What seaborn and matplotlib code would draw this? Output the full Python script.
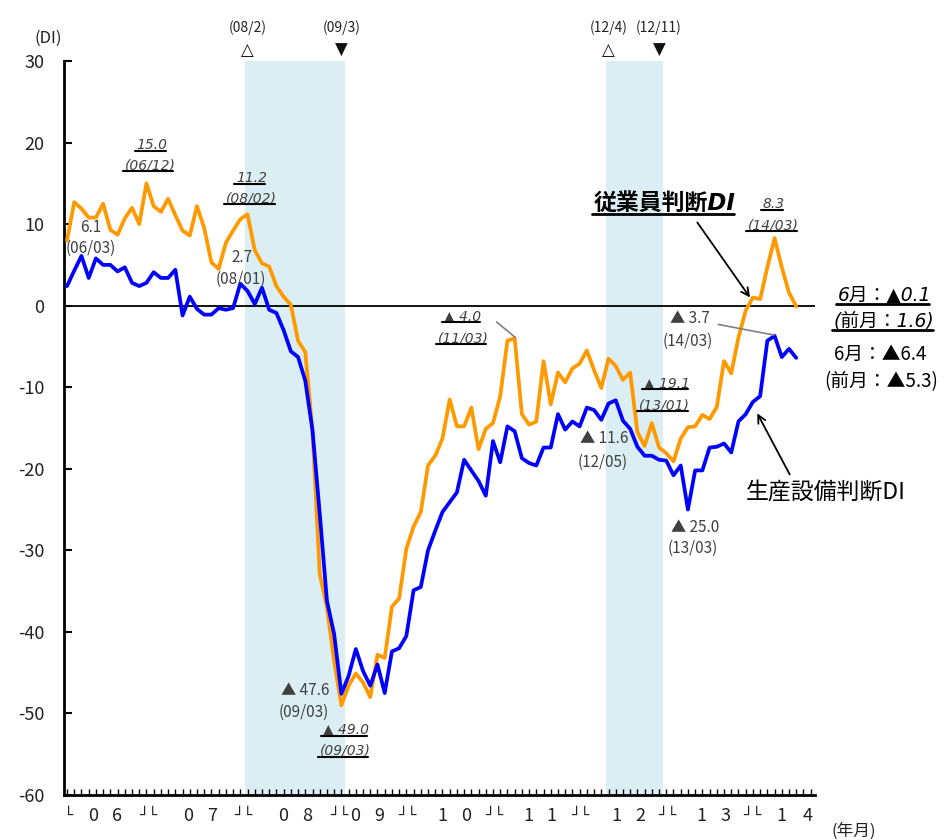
import numpy as np
import pandas as pd
import matplotlib
matplotlib.use("Agg")
import matplotlib.pyplot as plt
import seaborn as sns
from matplotlib.lines import Line2D

# ---------------- data ----------------
months = pd.period_range("2006-01", "2014-06", freq="M")

employee_di = [  # 従業員判断DI (orange)
    8.0, 12.7, 11.9, 10.8, 10.8, 12.5, 9.3, 8.7, 10.7, 12.0, 10.0, 15.0,
    12.2, 11.5, 13.1, 11.1, 9.2, 8.6, 12.2, 9.5, 5.3, 4.5, 7.7, 9.2,
    10.6, 11.2, 6.8, 5.2, 4.8, 2.4, 1.1, 0.1, -4.3, -5.7, -15.3, -32.9,
    -37.0, -43.6, -49.0, -46.6, -45.1, -46.2, -48.0, -42.8, -43.2, -36.9, -35.9, -29.8,
    -27.1, -25.3, -19.6, -18.4, -16.3, -11.5, -14.8, -14.8, -12.5, -17.6, -15.1, -14.4,
    -11.1, -4.3, -4.0, -13.3, -14.6, -14.2, -6.8, -12.1, -8.2, -9.4, -7.7, -7.1,
    -5.5, -7.9, -10.1, -6.5, -7.4, -9.1, -8.2, -15.5, -17.2, -14.4, -17.4, -18.1,
    -19.1, -16.3, -14.9, -14.8, -13.4, -13.9, -12.4, -6.8, -8.3, -3.9, -0.6, 1.0,
    0.8, 4.7, 8.3, 4.7, 1.6, -0.1,
]
equipment_di = [  # 生産設備判断DI (blue)
    2.4, 4.3, 6.1, 3.4, 5.8, 5.0, 5.0, 4.2, 4.7, 2.8, 2.4, 2.8,
    4.1, 3.4, 3.4, 4.4, -1.2, 1.1, -0.4, -1.1, -1.1, -0.3, -0.5, -0.3,
    2.7, 1.8, 0.2, 2.2, -0.5, -0.9, -3.0, -5.6, -6.3, -9.2, -15.3, -25.5,
    -36.2, -40.3, -47.6, -45.4, -42.1, -44.8, -46.6, -44.0, -47.5, -42.4, -42.0, -40.5,
    -34.9, -34.5, -30.0, -27.6, -25.3, -24.1, -22.9, -18.9, -20.2, -21.5, -23.3, -16.6,
    -19.2, -14.8, -15.4, -18.7, -19.3, -19.6, -17.4, -17.4, -13.3, -15.2, -14.2, -14.8,
    -12.5, -12.8, -14.0, -12.0, -11.6, -14.1, -15.1, -17.3, -18.4, -18.4, -18.9, -19.0,
    -20.8, -19.6, -25.0, -20.2, -20.2, -17.4, -17.3, -16.9, -18.0, -14.2, -13.3, -11.8,
    -11.1, -4.3, -3.7, -6.3, -5.3, -6.4,
]
series_names = ["従業員判断DI", "生産設備判断DI"]
recessions = [("2008-02", "2009-03"), ("2012-04", "2012-11")]
recession_labels = [("(08/2)", "(09/3)"), ("(12/4)", "(12/11)")]
year_labels = ["06", "07", "08", "09", "10", "11", "12", "13", "14"]
yticks = list(range(-60, 31, 10))

# ---------------- layout constants ----------------
year_label_pos = [5.26, 18.42, 31.58, 41.55, 53.6, 65.5, 77.7, 89.5, 100.8]
bracket_pos = [11.29, 24.45, 37.67, 47.16, 59.2, 71.1, 83.2, 94.9]

ORANGE = "#FF9900"
BLUE = "#0000FF"
SHADE = "#DAEEF3"
TXT = "#404040"

n = len(months)
idx = np.arange(n)
df = pd.DataFrame({
    "t": np.concatenate([idx, idx]),
    "DI": np.concatenate([employee_di, equipment_di]),
    "series": [series_names[0]] * n + [series_names[1]] * n,
})

def midx(s):
    p = pd.Period(s, freq="M")
    return (p - months[0]).n

sns.set_theme(style="white")
plt.rcParams["font.family"] = ["Noto Sans CJK JP", "DejaVu Sans"]
plt.rcParams["axes.unicode_minus"] = True

fig = plt.figure(figsize=(9.46, 8.4), dpi=100)
ax = fig.add_axes([64 / 946, 1 - 795 / 840, 751 / 946, 734 / 840])

# recession shading
for (a, b), (la, lb) in zip(recessions, recession_labels):
    ia, ib = midx(a), midx(b)
    ax.axvspan(ia - 0.35, ib + 0.55, color=SHADE, lw=0, zorder=0)
    ax.text(ia, 34.05, la, ha="center", va="center", fontsize=10, color="#222")
    ax.text(ib, 34.05, lb, ha="center", va="center", fontsize=10, color="#222")
    ax.text(ia, 31.4, "△", ha="center", va="center", fontsize=12, color="#111",
            family=["DejaVu Sans"])
    ax.text(ib, 31.4, "▼", ha="center", va="center", fontsize=12, color="#111",
            family=["DejaVu Sans"])

ax.axhline(0, color="black", lw=1.3, zorder=2)

sns.lineplot(data=df, x="t", y="DI", hue="series",
             palette={series_names[0]: ORANGE, series_names[1]: BLUE},
             lw=2.7, legend=False, ax=ax, zorder=3)
for ln in ax.lines:
    ln.set_solid_joinstyle("round")

ax.set_xlim(-0.42, 103.6)
ax.set_ylim(-60, 30)
ax.set_xlabel("")
ax.set_ylabel("")
ax.set_yticks(yticks)
ax.set_yticklabels([str(v) for v in yticks])
ax.set_xticks(np.arange(0, 104))
ax.set_xticklabels([])
for s in ["top", "right"]:
    ax.spines[s].set_visible(False)
for s in ["left", "bottom"]:
    ax.spines[s].set_color("black")
    ax.spines[s].set_linewidth(2)
ax.tick_params(axis="y", direction="in", length=6, width=1.5, left=True,
               labelsize=13, pad=14, colors="black", labelcolor="#222")
ax.tick_params(axis="x", direction="in", length=4, width=1, bottom=True,
               colors="black")

# year labels under the axis
xt = ax.get_xaxis_transform()
for lab, c in zip(year_labels, year_label_pos):
    if lab == "14":
        ax.text(99.0, -0.0286, lab[0], transform=xt, ha="center", va="center",
                fontsize=13, color="#222")
        ax.text(102.6, -0.0286, lab[1], transform=xt, ha="center", va="center",
                fontsize=13, color="#222")
    else:
        for d, off in zip(lab, (-1.65, 1.65)):
            ax.text(c + off, -0.0286, d, transform=xt, ha="center", va="center",
                    fontsize=13, color="#222")
ax.text(0.15, -0.0275, "└", transform=xt, ha="center", va="center",
        fontsize=11, color="#222", family=["DejaVu Sans"])
for c in bracket_pos:
    ax.text(c, -0.0275, "┘└", transform=xt, ha="center", va="center",
            fontsize=11, color="#222", family=["DejaVu Sans"])
ax.text(108.9, -64.4, "(年月)", ha="center", va="center", fontsize=12, color="#222")
ax.text(-2.6, 32.8, "(DI)", ha="center", va="center", fontsize=12, color="#222")

# annotations
underlined = []
ITAL = ["DejaVu Sans", "Noto Sans CJK JP"]

def note(x, y, s, italic=False, ul=False, size=11, color=TXT, **kw):
    if italic:
        t = ax.text(x, y, s, ha="center", va="center", fontsize=size, color=color,
                    style="italic", family=ITAL, **kw)
    else:
        t = ax.text(x, y, s, ha="center", va="center", fontsize=size, color=color, **kw)
    if ul:
        underlined.append(t)
    return t

note(11.77, 19.69, "15.0", italic=True, ul=True, size=10)
note(11.5, 17.23, "(06/12)", italic=True, ul=True, size=10)
note(25.6, 15.63, "11.2", italic=True, ul=True, size=10)
note(25.5, 13.18, "(08/02)", italic=True, ul=True, size=10)
note(3.32, 9.61, "6.1")
note(3.32, 7.04, "(06/03)")
note(24.2, 5.93, "2.7")
note(24.1, 3.23, "(08/01)")
note(32.96, -47.24, "▲ 47.6")
note(32.8, -49.9, "(09/03)")
note(38.64, -52.0, "▲ 49.0", italic=True, ul=True, size=10)
note(38.5, -54.6, "(09/03)", italic=True, ul=True, size=10)
note(54.85, -1.31, "▲ 4.0", italic=True, ul=True, size=10)
note(54.85, -4.0, "(11/03)", italic=True, ul=True, size=10)
note(74.4, -16.3, "▲ 11.6")
note(74.2, -19.2, "(12/05)")
note(83.1, -9.54, "▲ 19.1", italic=True, ul=True, size=10)
note(82.8, -12.24, "(13/01)", italic=True, ul=True, size=10)
note(87.0, -27.2, "▲ 25.0")
note(86.7, -29.8, "(13/03)")
note(97.9, 12.44, "8.3", italic=True, ul=True, size=10)
note(97.8, 9.86, "(14/03)", italic=True, ul=True, size=10)
note(86.3, -1.56, "▲ 3.7")
note(86.0, -4.38, "(14/03)")

# leader lines
ax.annotate("", xy=(62.1, employee_di[62] + 0.1), xytext=(59.5, -2.0),
            arrowprops=dict(arrowstyle="-", color="#808080", lw=1.2, shrinkA=0, shrinkB=0))
ax.annotate("", xy=(97.9, equipment_di[98] + 0.1), xytext=(90.2, -2.3),
            arrowprops=dict(arrowstyle="-", color="#808080", lw=1.2, shrinkA=0, shrinkB=0))

# series labels with arrows
note(82.8, 12.56, series_names[0], italic=True, ul=True, size=16.5, color="black",
     weight="bold")
ax.annotate("", xy=(94.6, 1.0), xytext=(87.3, 10.2),
            arrowprops=dict(arrowstyle="->", color="black", lw=1.3, shrinkA=0, shrinkB=0,
                            mutation_scale=14))
note(105.1, -22.9, series_names[1], size=16.5, color="black")
ax.annotate("", xy=(95.6, -13.2), xytext=(100.1, -20.7),
            arrowprops=dict(arrowstyle="->", color="black", lw=1.3, shrinkA=0, shrinkB=0,
                            mutation_scale=14))

# latest values
note(113.2, 1.26, "6月：▲0.1", italic=True, ul=True, size=13.5, color="black")
note(113.2, -1.93, "(前月：1.6)", italic=True, ul=True, size=13.5, color="black")
note(112.7, -5.97, "6月：▲6.4", size=13.5, color="black")
note(112.7, -9.3, "(前月：▲5.3)", size=13.5, color="black")

# draw underlines beneath chosen texts
fig.canvas.draw()
renderer = fig.canvas.get_renderer()
inv = fig.transFigure.inverted()
for t in underlined:
    bb = t.get_window_extent(renderer)
    lw = 2.0 if t.get_fontsize() > 12 else 1.5
    (x0, y0), (x1, _) = inv.transform([(bb.x0 - 2, bb.y0 + 1), (bb.x1 - 2, bb.y0 + 1)])
    fig.add_artist(Line2D([x0, x1], [y0, y0], color="black", lw=lw,
                          transform=fig.transFigure))

fig.savefig("out.png", dpi=100)
